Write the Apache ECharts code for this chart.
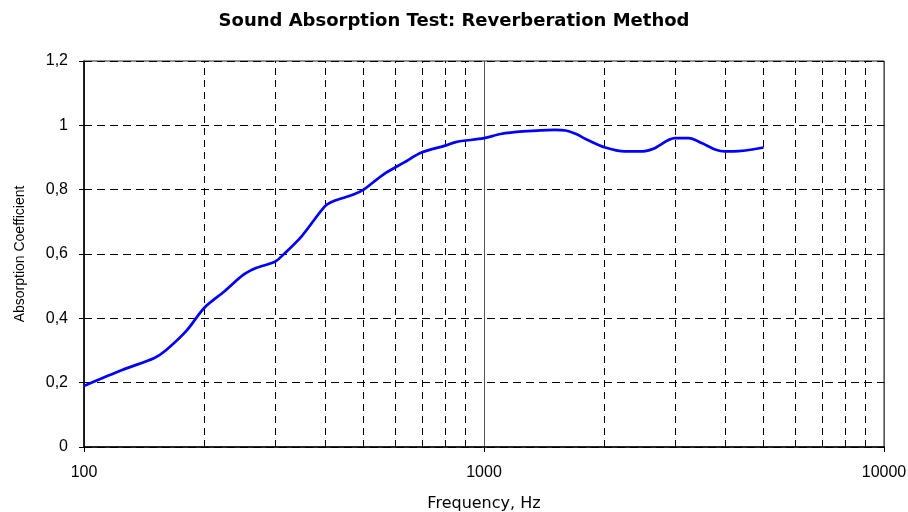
<!DOCTYPE html>
<html>
<head>
<meta charset="utf-8">
<script src="https://cdn.jsdelivr.net/npm/echarts@6/dist/echarts.min.js"></script>
<style>html,body{margin:0;padding:0;background:#fff}#c{width:908px;height:512px}</style>
</head>
<body>
<div id="c"></div>
<script>
const titleText = 'Sound Absorption Test: Reverberation Method';
const xName = 'Frequency, Hz';
const yName = 'Absorption Coefficient';
const frequencies = [100, 125, 150, 160, 180, 200, 225, 250, 270, 300, 315, 350, 400, 420, 470, 500, 560, 630, 700, 800, 850, 1000, 1100, 1250, 1500, 1600, 1700, 1800, 2000, 2250, 2500, 2650, 3000, 3250, 3500, 3800, 4000, 4200, 5000];
const absorption = [0.19, 0.24, 0.277, 0.30, 0.36, 0.433, 0.485, 0.535, 0.557, 0.576, 0.598, 0.655, 0.748, 0.764, 0.784, 0.80, 0.847, 0.884, 0.916, 0.937, 0.948, 0.96, 0.973, 0.981, 0.986, 0.984, 0.973, 0.957, 0.932, 0.919, 0.919, 0.927, 0.96, 0.96, 0.945, 0.924, 0.919, 0.919, 0.931];
const minorGridFreqs = [200, 300, 400, 500, 600, 700, 800, 900, 2000, 3000, 4000, 5000, 6000, 7000, 8000, 9000];
const yTicks = [0, 0.2, 0.4, 0.6, 0.8, 1.0, 1.2];

const font = "'Liberation Sans', Arial, sans-serif";
const wideFont = "'DejaVu Sans', 'Liberation Sans', sans-serif";
const chart = echarts.init(document.getElementById('c'), null, {renderer: 'canvas'});
chart.setOption({
  animation: false,
  backgroundColor: '#fff',
  title: {
    text: titleText, left: 'center', top: 7,
    textStyle: {fontFamily: wideFont, fontSize: 18, fontWeight: 'bold', color: '#000'}
  },
  grid: {left: 84, right: 24, top: 61, bottom: 65, show: true, borderColor: '#222', borderWidth: 1, outerBoundsMode: 'none', containLabel: false},
  xAxis: {
    type: 'log', logBase: 10, min: 100, max: 10000,
    name: xName, nameLocation: 'middle', nameGap: 49,
    nameTextStyle: {fontFamily: wideFont, fontSize: 16, color: '#000'},
    axisLine: {show: true, lineStyle: {color: '#000', width: 1.5}},
    axisTick: {show: true, inside: false, length: 5, lineStyle: {color: '#000'}},
    axisLabel: {fontFamily: font, fontSize: 16, color: '#000', margin: 18, formatter: v => String(Math.round(v))},
    splitLine: {show: true, lineStyle: {color: '#555', width: 1, type: 'solid'}},
    minorTick: {show: false}
  },
  yAxis: {
    type: 'value', min: 0, max: 1.2, interval: 0.2,
    name: yName, nameLocation: 'middle', nameGap: 57, nameRotate: 90,
    nameTextStyle: {fontFamily: font, fontSize: 14, color: '#000'},
    axisLine: {show: true, lineStyle: {color: '#000', width: 1.5}},
    axisTick: {show: true, inside: false, length: 5, lineStyle: {color: '#000'}},
    axisLabel: {
      fontFamily: font, fontSize: 16, color: '#000', margin: 16,
      formatter: v => { const t = yTicks.find(k => Math.abs(k - v) < 1e-9); return String(+(t === undefined ? v : t).toFixed(1)).replace('.', ','); }
    },
    splitLine: {show: true, lineStyle: {color: '#000', width: 1, type: [8, 5]}}
  },
  series: [{
    type: 'line',
    data: frequencies.map((f, i) => [f, absorption[i]]),
    showSymbol: false,
    smooth: 0.3,
    lineStyle: {color: '#0000ff', width: 2.7},
    itemStyle: {color: '#0000ff'},
    z: 5,
    markLine: {
      silent: true, symbol: 'none', animation: false,
      label: {show: false},
      lineStyle: {color: '#000', width: 1, type: [7, 5]},
      data: minorGridFreqs.map(f => ({xAxis: f})),
      z: 1
    }
  }]
});
</script>
</body>
</html>
